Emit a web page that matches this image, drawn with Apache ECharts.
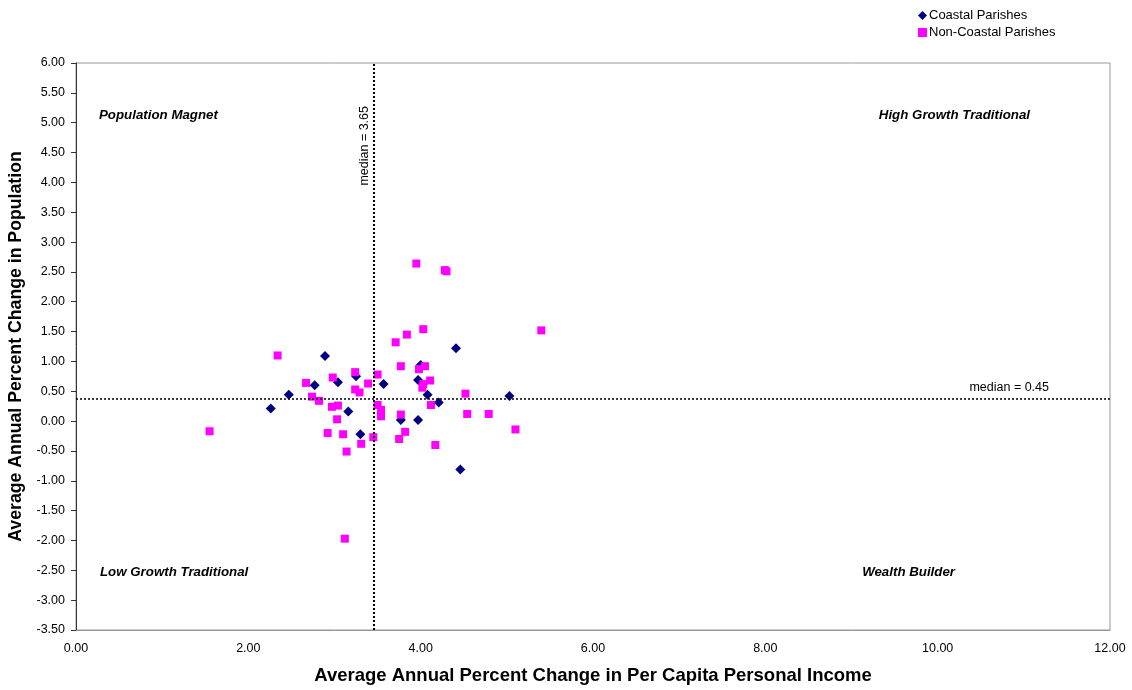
<!DOCTYPE html>
<html><head><meta charset="utf-8">
<script src="https://cdn.jsdelivr.net/npm/echarts@6/dist/echarts.min.js"></script>
<style>html,body{margin:0;padding:0;background:#fff}#c{width:1132px;height:690px}</style>
</head><body><div id="c"></div>
<script>
var seriesNames = ['Coastal Parishes', 'Non-Coastal Parishes'];
var coastal = [[2.89,1.09],[2.77,0.60],[3.04,0.65],[3.25,0.75],[3.57,0.62],[2.47,0.44],[2.26,0.21],[3.16,0.16],[3.30,-0.22],[4.41,1.22],[4.00,0.94],[3.97,0.69],[4.08,0.44],[5.03,0.42],[4.21,0.31],[3.77,0.02],[3.97,0.02],[4.46,-0.81]];
var nonCoastal = [[2.34,1.10],[2.67,0.64],[2.98,0.73],[3.24,0.82],[3.50,0.78],[3.39,0.63],[3.24,0.53],[3.29,0.48],[2.74,0.41],[2.82,0.34],[2.97,0.24],[3.04,0.26],[3.03,0.03],[3.50,0.27],[3.54,0.19],[3.54,0.08],[1.55,-0.17],[2.92,-0.20],[3.10,-0.22],[3.45,-0.27],[3.31,-0.38],[3.14,-0.51],[3.12,-1.97],[3.95,2.64],[4.28,2.53],[4.30,2.51],[4.03,1.54],[5.40,1.52],[3.84,1.45],[3.71,1.32],[3.77,0.92],[3.98,0.87],[4.05,0.92],[4.11,0.68],[4.03,0.62],[4.02,0.56],[4.52,0.46],[4.12,0.27],[4.54,0.12],[4.79,0.12],[3.77,0.11],[5.10,-0.14],[3.82,-0.18],[3.75,-0.30],[4.17,-0.40]];
var medianX = 3.46, medianXLabel = 'median = 3.65';
var medianY = 0.375, medianYLabel = 'median = 0.45';
var xTitle = 'Average Annual Percent Change in Per Capita Personal Income';
var yTitle = 'Average Annual Percent Change in Population';
var quadrantLabels = ['Population Magnet', 'High Growth Traditional', 'Low Growth Traditional', 'Wealth Builder'];

var FONT = '"Liberation Sans", Arial, sans-serif';
var chart = echarts.init(document.getElementById('c'));
var qStyle = {fontFamily: FONT, fontSize: 13.3, fontWeight: 'bold', fontStyle: 'italic', fill: '#000'};
chart.setOption({
  animation: false,
  textStyle: {fontFamily: FONT},
  grid: {left: 76, right: 22, top: 63, bottom: 60, show: true, borderColor: '#999', borderWidth: 1, outerBoundsMode: 'none', containLabel: false},
  legend: {
    orient: 'vertical', left: 913, top: 4, itemGap: 4, itemWidth: 9, itemHeight: 9,
    textStyle: {fontFamily: FONT, fontSize: 13, color: '#000', padding: [0,0,0,-3]},
    data: [{name: seriesNames[0], icon: 'diamond'}, {name: seriesNames[1], icon: 'rect'}]
  },
  xAxis: {
    type: 'value', min: 0, max: 12, interval: 2,
    name: xTitle, nameLocation: 'middle', nameGap: 36,
    nameTextStyle: {fontFamily: FONT, fontSize: 18.5, fontWeight: 'bold', color: '#000'},
    axisLine: {show: true, onZero: false, lineStyle: {color: '#999'}},
    axisTick: {show: false},
    axisLabel: {margin: 12, fontSize: 12.5, color: '#000', formatter: function(v){return v.toFixed(2);}},
    splitLine: {show: false}
  },
  yAxis: {
    type: 'value', min: -3.5, max: 6, interval: 0.5,
    name: yTitle, nameLocation: 'middle', nameGap: 45,
    nameTextStyle: {fontFamily: FONT, fontSize: 17.7, fontWeight: 'bold', color: '#000'},
    axisLine: {show: true, onZero: false, lineStyle: {color: '#333'}},
    axisTick: {show: true, inside: false, length: 5, lineStyle: {color: '#333'}},
    axisLabel: {margin: 11, fontSize: 12.5, color: '#000', formatter: function(v){return v.toFixed(2);}},
    splitLine: {show: false}
  },
  series: [
    {name: seriesNames[0], type: 'scatter', symbol: 'diamond', symbolSize: 10,
     itemStyle: {color: '#000080', opacity: 1}, data: coastal, z: 3},
    {name: seriesNames[1], type: 'scatter', symbol: 'rect', symbolSize: 8,
     itemStyle: {color: '#FF00FF', opacity: 1}, data: nonCoastal, z: 4,
     markLine: {
       silent: true, symbol: 'none', animation: false,
       lineStyle: {color: '#000', width: 1.5, type: [2, 2]},
       data: [
         {xAxis: medianX, lineStyle: {width: 2}, label: {show: true, formatter: medianXLabel, position: 'insideEndTop', fontSize: 12.5, color: '#000', distance: 3, padding: [0, 40, 0, 0]}},
         {yAxis: medianY, label: {show: true, formatter: medianYLabel, position: 'insideEndTop', fontSize: 12.5, color: '#000', distance: 4, padding: [0, 57, 0, 0]}}
       ]
     }}
  ],
  graphic: [
    {type: 'text', left: 99, top: 109, style: Object.assign({text: quadrantLabels[0]}, qStyle)},
    {type: 'text', right: 102, top: 109, style: Object.assign({text: quadrantLabels[1]}, qStyle)},
    {type: 'text', left: 100, top: 566, style: Object.assign({text: quadrantLabels[2]}, qStyle)},
    {type: 'text', right: 177, top: 566, style: Object.assign({text: quadrantLabels[3]}, qStyle)}
  ]
});
</script></body></html>
